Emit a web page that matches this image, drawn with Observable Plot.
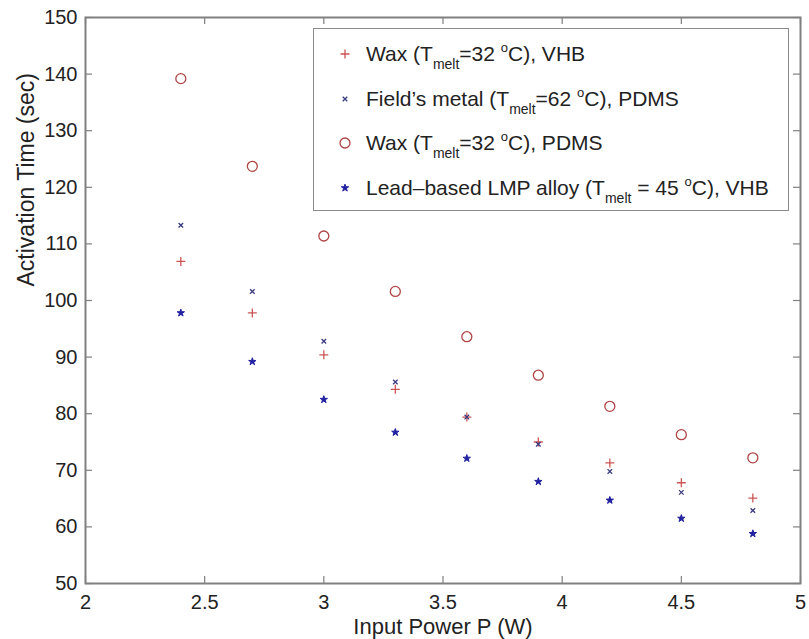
<!DOCTYPE html>
<html><head><meta charset="utf-8">
<script src="https://cdn.jsdelivr.net/npm/d3@7"></script>
<script src="https://cdn.jsdelivr.net/npm/@observablehq/plot@0.6"></script>
<style>
body{margin:0;background:#fff;}
#wrap{position:relative;width:809px;height:639px;font-family:"Liberation Sans",Arial,Helvetica,sans-serif;}
#legend{position:absolute;left:313px;top:28px;width:474px;height:181px;border:1.5px solid #8a8a8a;background:#fff;}
.row{position:absolute;left:0;height:30px;display:flex;align-items:center;font-size:21px;color:#222;white-space:nowrap;}
.row svg{margin-left:24px;margin-right:14px;}
sub{font-size:14px;vertical-align:-8px;line-height:0;}
sup{font-size:13px;vertical-align:9px;line-height:0;}
</style></head>
<body><div id="wrap"></div>
<script>
const power = [2.4, 2.7, 3.0, 3.3, 3.6, 3.9, 4.2, 4.5, 4.8];
const waxVHB = [106.9, 97.8, 90.4, 84.3, 79.4, 75.0, 71.3, 67.8, 65.1];
const fieldsPDMS = [113.3, 101.6, 92.8, 85.6, 79.4, 74.6, 69.8, 66.1, 62.9];
const waxPDMS = [139.2, 123.7, 111.4, 101.6, 93.6, 86.8, 81.3, 76.3, 72.2];
const leadVHB = [97.8, 89.2, 82.5, 76.7, 72.1, 68.0, 64.7, 61.5, 58.8];
const xTicks = [2, 2.5, 3, 3.5, 4, 4.5, 5];
const yTicks = [50, 60, 70, 80, 90, 100, 110, 120, 130, 140, 150];

const series = [
  {name: "waxVHB", values: waxVHB, symbol: "plus", r: 3, stroke: "#cc5555", fill: "none", sw: 1.3,
   html: 'Wax (T<sub>melt</sub>=32 <sup>o</sup>C), VHB'},
  {name: "fieldsPDMS", values: fieldsPDMS, symbol: "times", r: 2.2, stroke: "#3a3a80", fill: "none", sw: 1.3,
   html: 'Field\u2019s metal (T<sub>melt</sub>=62 <sup>o</sup>C), PDMS'},
  {name: "waxPDMS", values: waxPDMS, symbol: "circle", r: 5, stroke: "#b04444", fill: "none", sw: 1.3,
   html: 'Wax (T<sub>melt</sub>=32 <sup>o</sup>C), PDMS'},
  {name: "leadVHB", values: leadVHB, symbol: "star", r: 2.3, stroke: "#2020a0", fill: "#2020a0", sw: 1,
   html: 'Lead\u2013based LMP alloy (T<sub>melt</sub> = 45 <sup>o</sup>C), VHB'}
];

const dotMarks = series.map(s => Plot.dot(power.map((p, i) => ({p, v: s.values[i]})), {
  x: "p", y: "v", symbol: () => s.symbol, r: s.r, stroke: s.stroke, fill: s.fill, strokeWidth: s.sw
}));

const W = 809, H = 639, mL = 85, mR = 9, mT = 17, mB = 56;
const innerW = W - mL - mR, innerH = H - mT - mB, tick = 7;
const gray = "#808080";
const chart = Plot.plot({
  width: W, height: H,
  marginLeft: mL, marginRight: mR, marginTop: mT, marginBottom: mB,
  style: {fontFamily: '"Liberation Sans", Arial, Helvetica, sans-serif', fontSize: "20px", background: "#fff", color: "#222"},
  x: {domain: [2, 5]},
  y: {domain: [50, 150]},
  symbol: {type: "identity"},
  marks: [
    Plot.axisX({anchor: "bottom", ticks: xTicks, tickSize: 0, tickPadding: 11, tickFormat: d => String(d), label: null, fill: "#222"}),
    Plot.axisY({anchor: "left", ticks: yTicks, tickSize: 0, tickPadding: 8, tickFormat: d => String(d), label: null, fill: "#222"}),
    Plot.ruleX(xTicks, {x: d => d, insetTop: innerH - tick, stroke: gray, strokeWidth: 1.2}),
    Plot.ruleX(xTicks, {x: d => d, insetBottom: innerH - tick, stroke: gray, strokeWidth: 1.2}),
    Plot.ruleY(yTicks, {y: d => d, insetRight: innerW - tick, stroke: gray, strokeWidth: 1.2}),
    Plot.ruleY(yTicks, {y: d => d, insetLeft: innerW - tick, stroke: gray, strokeWidth: 1.2}),
    Plot.frame({stroke: gray, strokeWidth: 2}),
    ...dotMarks,
    Plot.text(["Input Power P (W)"], {frameAnchor: "bottom", dy: 43, lineAnchor: "middle", fontSize: 22, fill: "#222"}),
    Plot.text(["Activation Time (sec)"], {frameAnchor: "left", dx: -59, dy: -14, rotate: -90, lineAnchor: "middle", fontSize: 23, fill: "#222"})
  ]
});

const wrap = document.getElementById("wrap");
wrap.appendChild(chart);

const legend = document.createElement("div");
legend.id = "legend";
const rowCenters = [25, 70, 114, 159];
series.forEach((s, i) => {
  const row = document.createElement("div");
  row.className = "row";
  row.style.top = (rowCenters[i] - 15) + "px";
  const sym = {plus: d3.symbolPlus, times: d3.symbolTimes, circle: d3.symbolCircle, star: d3.symbolStar}[s.symbol];
  const path = d3.symbol(sym, Math.PI * s.r * s.r)();
  const svg = `<svg width="14" height="14" viewBox="-7 -7 14 14"><path d="${path}" stroke="${s.stroke}" fill="${s.fill}" stroke-width="${s.sw}"/></svg>`;
  row.innerHTML = svg + '<span>' + s.html + '</span>';
  legend.appendChild(row);
});
wrap.appendChild(legend);
</script>
</body></html>
